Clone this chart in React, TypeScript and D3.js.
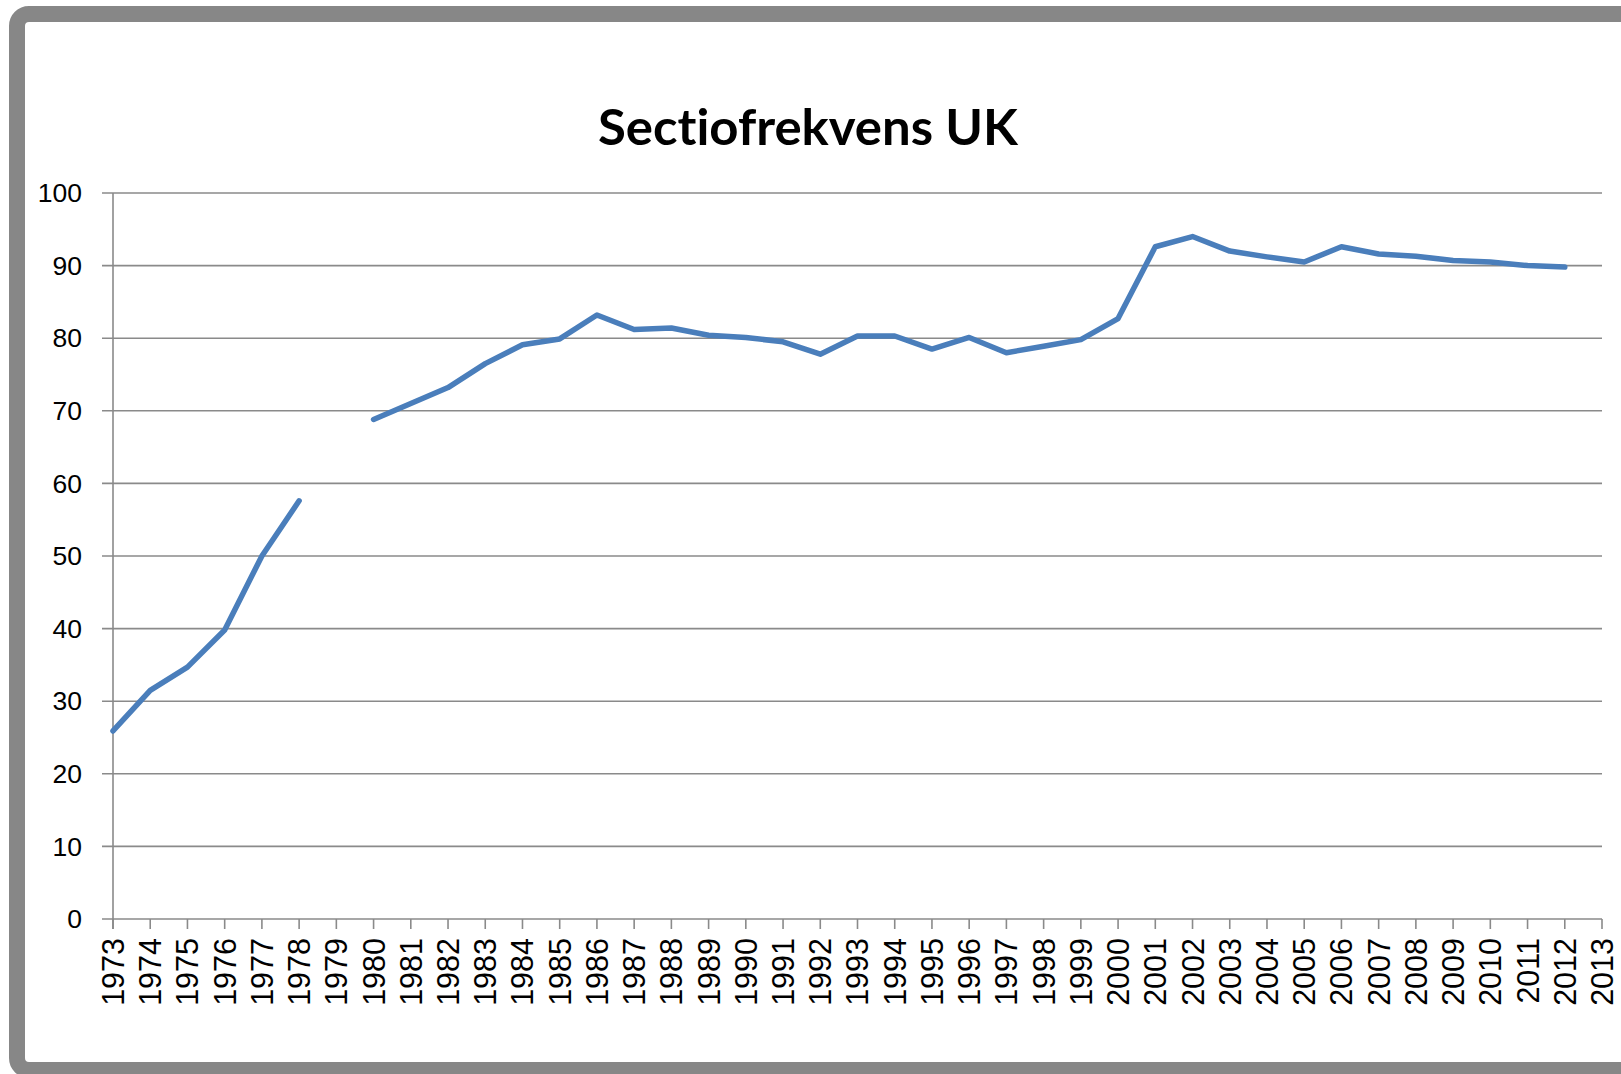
import * as d3 from 'd3';

const years = [
  '1973', '1974', '1975', '1976', '1977', '1978', '1979', '1980', '1981', '1982',
  '1983', '1984', '1985', '1986', '1987', '1988', '1989', '1990', '1991', '1992',
  '1993', '1994', '1995', '1996', '1997', '1998', '1999', '2000', '2001', '2002',
  '2003', '2004', '2005', '2006', '2007', '2008', '2009', '2010', '2011', '2012', '2013',
];
// sectio rate per year, null = no data
const rates: (number | null)[] = [
  25.9, 31.5, 34.7, 39.8, 50.0, 57.6, null, 68.8, 71.0, 73.2,
  76.5, 79.1, 79.9, 83.2, 81.2, 81.4, 80.4, 80.1, 79.5, 77.8,
  80.3, 80.3, 78.5, 80.1, 78.0, 78.9, 79.8, 82.7, 92.6, 94.0,
  92.0, 91.2, 90.5, 92.6, 91.6, 91.3, 90.7, 90.5, 90.0, 89.8, null,
];
const yTicks = [0, 10, 20, 30, 40, 50, 60, 70, 80, 90, 100];
const title = 'Sectiofrekvens UK';

const width = 1621;
const height = 1074;
const left = 113;
const right = 1602;
const top = 193;
const bottom = 919;
const gridColor = '#8a8a8a';

const App = () => {
  const x = d3.scalePoint<string>().domain(years).range([left, right]);
  const y = d3.scaleLinear().domain([0, 100]).range([bottom, top]);

  const line = d3
    .line<number | null>()
    .defined(d => d != null)
    .x((_, i) => x(years[i])!)
    .y(d => y(d as number));

  return (
    <svg
      width={width}
      height={height}
      style={{ position: 'absolute', left: 0, top: 0, background: '#fff' }}
    >
      <rect x={17} y={14} width={1660} height={1056} rx={12} fill="#fff" stroke="#878787" strokeWidth={16} />

      <text
        x={808}
        y={145}
        textAnchor="middle"
        fontFamily="Lato, 'Open Sans', sans-serif"
        fontWeight="bold"
        fontSize={50}
        textLength={420}
        lengthAdjust="spacingAndGlyphs"
        style={{ fontVariantLigatures: 'none' }}
        fill="#000"
      >
        {title}
      </text>

      {/* horizontal grid + y tick labels */}
      {yTicks.map(t => (
        <g key={t}>
          <line x1={left - 11} x2={right} y1={y(t)} y2={y(t)} stroke={gridColor} strokeWidth={1.6} />
          <text
            x={82}
            y={y(t)}
            dy="0.35em"
            textAnchor="end"
            fontFamily="'Liberation Sans', Arial, sans-serif"
            fontSize={26.5}
            fill="#000"
          >
            {t}
          </text>
        </g>
      ))}

      {/* y axis */}
      <line x1={left} x2={left} y1={top} y2={bottom + 10} stroke={gridColor} strokeWidth={1.6} />

      {/* x ticks + labels */}
      {years.map(yr => (
        <g key={yr} transform={`translate(${x(yr)},0)`}>
          <line y1={bottom} y2={bottom + 10} stroke={gridColor} strokeWidth={1.6} />
          <text
            transform={`translate(0,938) rotate(-90)`}
            dy="0.36em"
            textAnchor="end"
            fontFamily="'Liberation Sans', Arial, sans-serif"
            fontSize={30.5}
            fill="#000"
          >
            {yr}
          </text>
        </g>
      ))}

      <path
        d={line(rates) ?? ''}
        fill="none"
        stroke="#4a7ebb"
        strokeWidth={5.5}
        strokeLinejoin="round"
        strokeLinecap="round"
      />
    </svg>
  );
};

export default App;
